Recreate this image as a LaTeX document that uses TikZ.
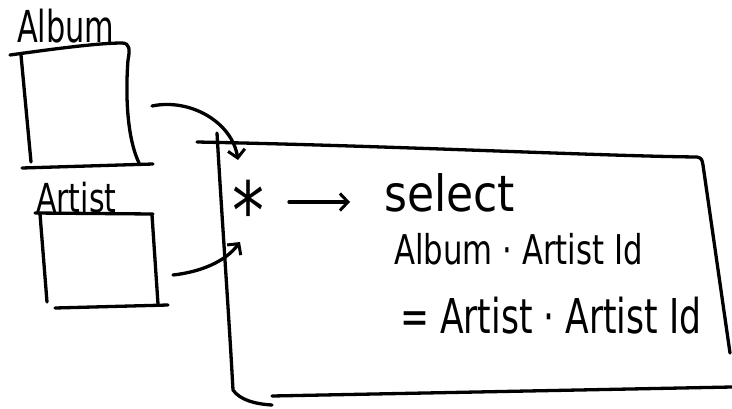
\documentclass[tikz,border=0pt]{standalone}
\usepackage{fontspec}
\setmainfont{DejaVu Sans}
\usetikzlibrary{arrows.meta}
\begin{document}
\begin{tikzpicture}[x=1pt,y=-1pt,
  pen/.style={line width=3.3pt,line cap=round,line join=round},
  link/.style={pen,-{Straight Barb[length=8pt,width=17pt,line width=3pt]}},
  hand/.style={inner sep=0pt,anchor=base west}]
\useasboundingbox (0,0) rectangle (732,408);
% Album table
\draw[pen] (10,55) .. controls (60,48) and (100,43) .. (122,43) .. controls (130,43) and (130,50) .. (128,60) .. controls (125,100) and (128,140) .. (139,163);
\draw[pen] (21,55) -- (31,162);
\draw[pen] (22,168) -- (153,164);
\node[hand,xscale=0.69,font=\fontsize{44}{44}\selectfont] (album) at (17,42) {Album};
% Artist table
\draw[pen] (35,213) -- (153,214);
\draw[pen] (40,214) -- (47,302);
\draw[pen] (152,215) -- (158,304);
\draw[pen] (55,308) -- (168,305);
\node[hand,xscale=0.75,font=\fontsize{40}{40}\selectfont] (artist) at (36,212) {Artist};
% query box
\draw[pen] (197,142) .. controls (400,146) and (600,156) .. (697,157) .. controls (702,158) and (702,160) .. (703,165) -- (730,353);
\draw[pen] (217,133) .. controls (222,220) and (228,300) .. (233,390) .. controls (240,400) and (255,404) .. (272,405);
\draw[pen] (272,396) -- (732,387);
% arrows in
\coordinate (a1) at (152,106);
\coordinate (a1e) at (238,160);
\coordinate (a2) at (173,275);
\coordinate (a2e) at (240,242);
\draw[link] (a1) .. controls (190,98) and (232,122) .. (a1e);
\draw[link] (a2) .. controls (200,272) and (225,262) .. (a2e);
% query text
\node[hand,xscale=0.8,font=\fontsize{80}{80}\selectfont] (star) at (232,239) {*};
\coordinate (s1) at (289,202);
\coordinate (s2) at (350,202);
\draw[link] (s1) -- (s2);
\node[hand,xscale=0.88,font=\fontsize{50}{50}\selectfont] (sel) at (384,211) {select};
\node[hand,xscale=0.75,font=\fontsize{41}{41}\selectfont] (l1) at (394,264) {Album · Artist Id};
\node[hand,xscale=0.72,font=\fontsize{48}{48}\selectfont] (l2) at (400,333) {= Artist · Artist Id};
\end{tikzpicture}
\end{document}
